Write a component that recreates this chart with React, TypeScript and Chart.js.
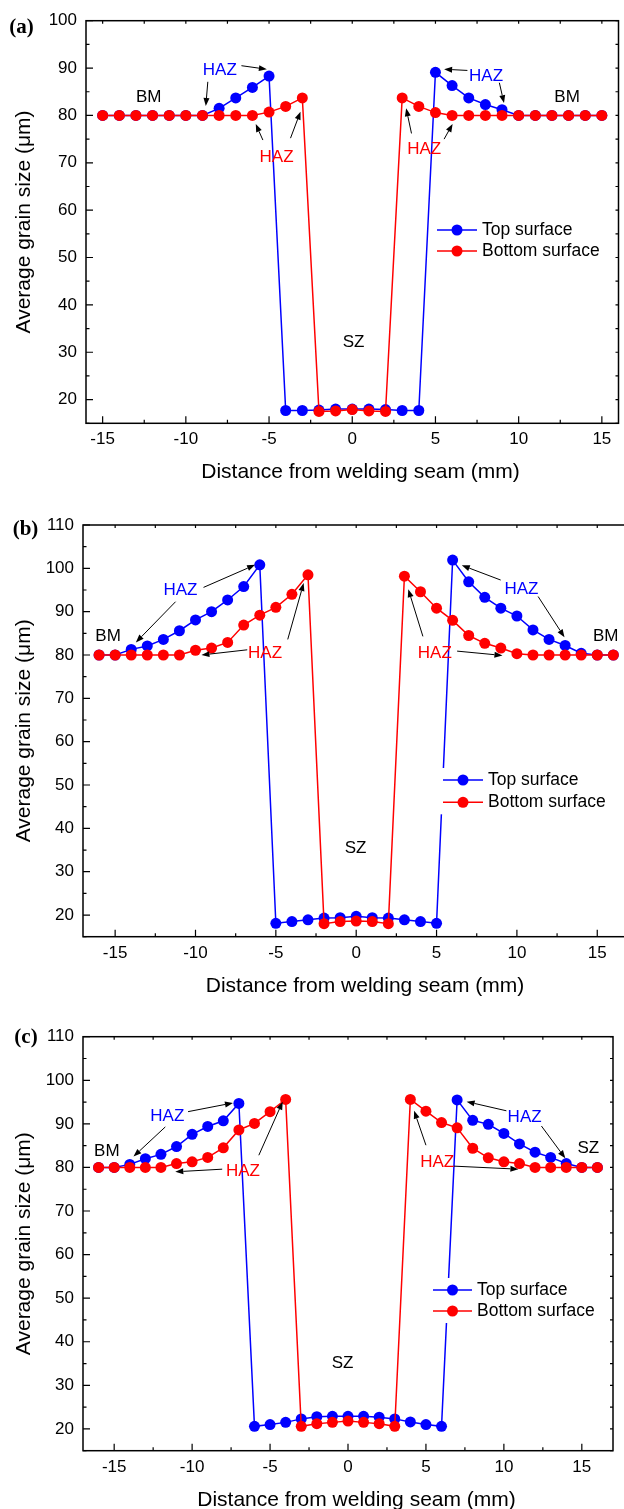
import React, { useEffect, useRef } from "react";
import { Chart, registerables } from "chart.js";

Chart.register(...registerables);

const SANS = "'Liberation Sans', Arial, Helvetica, sans-serif";
const SERIF = "'Liberation Serif', 'Times New Roman', serif";
const BLUE = "#0000ff";
const RED = "#ff0000";
const BLACK = "#000000";

const SERIES_LABELS = ["Top surface", "Bottom surface"];
const X_TITLE = "Distance from welding seam (mm)";
const Y_TITLE = "Average grain size (\u03bcm)";

// ---------- Panel (a) ----------
const distA = [-15, -14, -13, -12, -11, -10, -9, -8, -7, -6, -5, -4, -3, -2, -1, 0, 1, 2, 3, 4, 5, 6, 7, 8, 9, 10, 11, 12, 13, 14, 15];
const topA = [80, 80, 80, 80, 80, 80, 80, 81.5, 83.7, 85.9, 88.3, 17.7, 17.7, 17.8, 18.0, 18.0, 18.0, 17.9, 17.7, 17.7, 89.1, 86.3, 83.7, 82.3, 81.2, 80, 80, 80, 80, 80, 80];
const bottomA = [80, 80, 80, 80, 80, 80, 80, 80, 80, 80, 80.7, 81.9, 83.7, 17.5, 17.6, 17.9, 17.6, 17.5, 83.7, 81.9, 80.6, 80, 80, 80, 80, 80, 80, 80, 80, 80, 80];

// ---------- Panel (b) ----------
const distB = [-16, -15, -14, -13, -12, -11, -10, -9, -8, -7, -6, -5, -4, -3, -2, -1, 0, 1, 2, 3, 4, 5, 6, 7, 8, 9, 10, 11, 12, 13, 14, 15, 16];
const topB = [80, 80, 81.3, 82.1, 83.6, 85.6, 88.1, 90.0, 92.7, 95.8, 100.8, 18.1, 18.5, 18.9, 19.3, 19.4, 19.7, 19.4, 19.3, 18.9, 18.5, 18.1, 101.9, 96.9, 93.3, 90.8, 89.0, 85.8, 83.6, 82.2, 80.4, 80, 80];
const bottomB = [80, 80, 80, 80, 80, 80, 81.1, 81.6, 82.9, 86.9, 89.2, 91.0, 94.0, 98.5, 18.0, 18.5, 18.6, 18.5, 18.0, 98.2, 94.6, 90.8, 88.0, 84.5, 82.7, 81.6, 80.3, 80, 80, 80, 80, 80, 80];

// ---------- Panel (c) ----------
const distC = [-16, -15, -14, -13, -12, -11, -10, -9, -8, -7, -6, -5, -4, -3, -2, -1, 0, 1, 2, 3, 4, 5, 6, 7, 8, 9, 10, 11, 12, 13, 14, 15, 16];
const topC = [80, 80, 80.7, 82.0, 83.0, 84.8, 87.6, 89.4, 90.7, 94.7, 20.6, 21.0, 21.5, 22.3, 22.8, 22.9, 22.9, 22.9, 22.7, 22.3, 21.6, 21.0, 20.6, 95.5, 90.8, 89.9, 87.8, 85.4, 83.5, 82.3, 80.9, 80, 80];
const bottomC = [80, 80, 80, 80, 80, 80.9, 81.3, 82.3, 84.5, 88.6, 90.1, 92.8, 95.6, 20.6, 21.2, 21.5, 21.8, 21.5, 21.2, 20.6, 95.6, 92.9, 90.3, 89.1, 84.4, 82.2, 81.3, 80.9, 80, 80, 80, 80, 80];

// ---------- Annotations (data coordinates) ----------
type Note = { text: string; x: number; y: number; color: string };
type Arrow = { x1: number; y1: number; x2: number; y2: number };

const notesA: Note[] = [
  { text: "BM", x: -12.23, y: 83.8, color: BLACK },
  { text: "HAZ", x: -7.96, y: 89.6, color: BLUE },
  { text: "HAZ", x: -4.55, y: 71.2, color: RED },
  { text: "HAZ", x: 4.32, y: 72.9, color: RED },
  { text: "HAZ", x: 8.04, y: 88.3, color: BLUE },
  { text: "BM", x: 12.91, y: 83.8, color: BLACK },
  { text: "SZ", x: 0.08, y: 32.1, color: BLACK },
];
const arrowsA: Arrow[] = [
  { x1: -6.66, y1: 90.5, x2: -5.13, y2: 89.75 },
  { x1: -8.68, y1: 87.1, x2: -8.8, y2: 82.0 },
  { x1: -5.37, y1: 74.8, x2: -5.8, y2: 78.2 },
  { x1: -3.71, y1: 75.2, x2: -3.11, y2: 80.8 },
  { x1: 3.56, y1: 76.2, x2: 3.24, y2: 81.5 },
  { x1: 5.52, y1: 75.0, x2: 6.03, y2: 78.2 },
  { x1: 6.92, y1: 89.5, x2: 5.52, y2: 89.75 },
  { x1: 8.84, y1: 86.9, x2: 9.12, y2: 82.6 },
];

const notesB: Note[] = [
  { text: "BM", x: -15.44, y: 84.3, color: BLACK },
  { text: "HAZ", x: -10.94, y: 95.0, color: BLUE },
  { text: "HAZ", x: -5.67, y: 80.4, color: RED },
  { text: "HAZ", x: 4.89, y: 80.4, color: RED },
  { text: "HAZ", x: 10.28, y: 95.2, color: BLUE },
  { text: "BM", x: 15.53, y: 84.4, color: BLACK },
  { text: "SZ", x: -0.04, y: 35.3, color: BLACK },
];
const arrowsB: Arrow[] = [
  { x1: -9.5, y1: 95.6, x2: -6.29, y2: 100.8 },
  { x1: -11.24, y1: 92.3, x2: -13.71, y2: 82.9 },
  { x1: -6.78, y1: 81.2, x2: -9.63, y2: 80.0 },
  { x1: -4.26, y1: 83.6, x2: -3.27, y2: 96.6 },
  { x1: 4.15, y1: 84.3, x2: 3.24, y2: 95.2 },
  { x1: 6.28, y1: 80.9, x2: 9.1, y2: 79.9 },
  { x1: 8.99, y1: 97.3, x2: 6.57, y2: 100.7 },
  { x1: 11.32, y1: 93.5, x2: 12.96, y2: 84.1 },
];

const notesC: Note[] = [
  { text: "BM", x: -15.47, y: 83.8, color: BLACK },
  { text: "HAZ", x: -11.59, y: 91.8, color: BLUE },
  { text: "HAZ", x: -6.74, y: 79.0, color: RED },
  { text: "HAZ", x: 5.72, y: 81.1, color: RED },
  { text: "HAZ", x: 11.33, y: 91.6, color: BLUE },
  { text: "SZ", x: 15.42, y: 84.4, color: BLACK },
  { text: "SZ", x: -0.35, y: 35.0, color: BLACK },
];
const arrowsC: Arrow[] = [
  { x1: -10.26, y1: 92.8, x2: -7.38, y2: 94.8 },
  { x1: -11.72, y1: 89.3, x2: -13.76, y2: 82.5 },
  { x1: -8.07, y1: 79.6, x2: -11.08, y2: 79.0 },
  { x1: -5.72, y1: 82.8, x2: -4.19, y2: 95.1 },
  { x1: 5.0, y1: 85.1, x2: 4.24, y2: 93.0 },
  { x1: 6.79, y1: 80.3, x2: 10.93, y2: 79.6 },
  { x1: 10.16, y1: 93.0, x2: 7.61, y2: 95.1 },
  { x1: 12.41, y1: 89.5, x2: 13.94, y2: 82.1 },
];

// ---------- Panel layout (pixels, canvas-relative) ----------
type Layout = {
  canvasTop: number; canvasW: number; canvasH: number;
  left: number; right: number; top: number; bottom: number;
  labelX: number; labelY: number; xTitleX: number; xTitleY: number;
  legX0: number; legX1: number; legTextX: number; legY1: number; legY2: number;
};

type Panel = {
  key: string; label: string; dist: number[]; top: number[]; bottom: number[];
  xMin: number; xMax: number; yMin: number; yMax: number;
  notes: Note[]; arrows: Arrow[]; L: Layout;
};

const PANELS: Panel[] = [
  {
    key: "a", label: "(a)", dist: distA, top: topA, bottom: bottomA,
    xMin: -16, xMax: 16, yMin: 15, yMax: 100, notes: notesA, arrows: arrowsA,
    L: { canvasTop: 0, canvasW: 624, canvasH: 492, left: 86, right: 619, top: 20.7, bottom: 423.3,
      labelX: 21.5, labelY: 33, xTitleX: 360.5, xTitleY: 472,
      legX0: 437, legX1: 477, legTextX: 482, legY1: 230, legY2: 251 },
  },
  {
    key: "b", label: "(b)", dist: distB, top: topB, bottom: bottomB,
    xMin: -17, xMax: 17, yMin: 15, yMax: 110, notes: notesB, arrows: arrowsB,
    L: { canvasTop: 492, canvasW: 640, canvasH: 504, left: 83, right: 629.4, top: 33, bottom: 444.7,
      labelX: 25.5, labelY: 43, xTitleX: 365, xTitleY: 494,
      legX0: 443, legX1: 483, legTextX: 488, legY1: 288, legY2: 310.3 },
  },
  {
    key: "c", label: "(c)", dist: distC, top: topC, bottom: bottomC,
    xMin: -17, xMax: 17, yMin: 15, yMax: 110, notes: notesC, arrows: arrowsC,
    L: { canvasTop: 996, canvasW: 624, canvasH: 513, left: 83, right: 613, top: 40.7, bottom: 454.7,
      labelX: 26, labelY: 47, xTitleX: 356.5, xTitleY: 504,
      legX0: 433, legX1: 472, legTextX: 477, legY1: 294, legY2: 315 },
  },
];

function drawArrow(ctx: CanvasRenderingContext2D, x1: number, y1: number, x2: number, y2: number) {
  const ang = Math.atan2(y2 - y1, x2 - x1);
  const len = 8, hw = 3;
  const bx = x2 - len * Math.cos(ang), by = y2 - len * Math.sin(ang);
  ctx.beginPath();
  ctx.moveTo(x1, y1);
  ctx.lineTo(bx, by);
  ctx.stroke();
  ctx.beginPath();
  ctx.moveTo(x2, y2);
  ctx.lineTo(bx + hw * Math.sin(ang), by - hw * Math.cos(ang));
  ctx.lineTo(bx - hw * Math.sin(ang), by + hw * Math.cos(ang));
  ctx.closePath();
  ctx.fill();
}

function buildChart(canvas: HTMLCanvasElement, p: Panel) {
  const L = p.L;
  const datasets = [
    { label: SERIES_LABELS[0], color: BLUE, values: p.top, order: 1 },
    { label: SERIES_LABELS[1], color: RED, values: p.bottom, order: 0 },
  ].map((s) => ({
    label: s.label,
    data: p.dist.map((x, i) => ({ x, y: s.values[i] })),
    showLine: true,
    borderColor: s.color,
    backgroundColor: s.color,
    borderWidth: 1.5,
    pointRadius: 5.5,
    pointBorderWidth: 0,
    pointBackgroundColor: s.color,
    tension: 0,
    order: s.order,
  }));

  const decor = {
    id: "decor",
    afterDatasetsDraw(chart: any) {
      const ctx: CanvasRenderingContext2D = chart.ctx;
      const xs = chart.scales.x, ys = chart.scales.y;
      const { left, right, top, bottom } = chart.chartArea;
      ctx.save();

      // arrows
      ctx.strokeStyle = BLACK;
      ctx.fillStyle = BLACK;
      ctx.lineWidth = 1;
      for (const a of p.arrows) {
        drawArrow(ctx, xs.getPixelForValue(a.x1), ys.getPixelForValue(a.y1), xs.getPixelForValue(a.x2), ys.getPixelForValue(a.y2));
      }
      // notes
      ctx.font = `17px ${SANS}`;
      ctx.textAlign = "center";
      ctx.textBaseline = "middle";
      for (const n of p.notes) {
        ctx.fillStyle = n.color;
        ctx.fillText(n.text, xs.getPixelForValue(n.x), ys.getPixelForValue(n.y));
      }

      // legend
      ctx.font = `17.5px ${SANS}`;
      const rows = [L.legY1, L.legY2];
      let tw = 0;
      chart.data.datasets.forEach((d: any) => { tw = Math.max(tw, ctx.measureText(d.label).width); });
      ctx.fillStyle = "#ffffff";
      ctx.fillRect(L.legX0 - 4, L.legY1 - 12, L.legTextX + tw + 4 - (L.legX0 - 4), L.legY2 - L.legY1 + 24);
      chart.data.datasets.forEach((d: any, i: number) => {
        const y = rows[i];
        ctx.strokeStyle = d.borderColor;
        ctx.lineWidth = 1.5;
        ctx.beginPath();
        ctx.moveTo(L.legX0, y);
        ctx.lineTo(L.legX1, y);
        ctx.stroke();
        ctx.fillStyle = d.borderColor;
        ctx.beginPath();
        ctx.arc((L.legX0 + L.legX1) / 2, y, 5.5, 0, Math.PI * 2);
        ctx.fill();
        ctx.fillStyle = BLACK;
        ctx.textAlign = "left";
        ctx.textBaseline = "middle";
        ctx.fillText(d.label, L.legTextX, y);
      });

      // frame
      ctx.strokeStyle = BLACK;
      ctx.lineWidth = 1.5;
      ctx.strokeRect(left, top, right - left, bottom - top);

      // ticks (inward), major + minor
      ctx.lineWidth = 1.2;
      const xMajor = xs.ticks.map((t: any) => t.value);
      const yMajor = ys.ticks.map((t: any) => t.value);
      ctx.beginPath();
      for (let v = Math.ceil(p.xMin / 2.5) * 2.5; v <= p.xMax + 1e-9; v += 2.5) {
        const px = xs.getPixelForValue(v);
        const major = xMajor.some((m: number) => Math.abs(m - v) < 1e-6);
        ctx.moveTo(px, bottom);
        ctx.lineTo(px, bottom - (major ? 7 : 3.5));
        ctx.moveTo(px, top);
        ctx.lineTo(px, top + 3);
      }
      for (let v = Math.ceil(p.yMin / 5) * 5; v <= p.yMax + 1e-9; v += 5) {
        const py = ys.getPixelForValue(v);
        const major = yMajor.some((m: number) => Math.abs(m - v) < 1e-6);
        ctx.moveTo(left, py);
        ctx.lineTo(left + (major ? 7 : 3.5), py);
        ctx.moveTo(right, py);
        ctx.lineTo(right - 3, py);
      }
      ctx.stroke();

      // x title
      ctx.fillStyle = BLACK;
      ctx.font = `21px ${SANS}`;
      ctx.textAlign = "center";
      ctx.textBaseline = "middle";
      ctx.fillText(X_TITLE, L.xTitleX, L.xTitleY);

      // panel label
      ctx.font = `bold 21px ${SERIF}`;
      ctx.textBaseline = "alphabetic";
      ctx.fillText(p.label, L.labelX, L.labelY);

      ctx.restore();
    },
  };

  return new Chart(canvas, {
    type: "scatter",
    data: { datasets },
    options: {
      animation: false,
      responsive: false,
      maintainAspectRatio: false,
      events: [],
      layout: { padding: { left: 0, top: L.top, right: L.canvasW - L.right, bottom: 0 } },
      plugins: { legend: { display: false }, tooltip: { enabled: false }, title: { display: false } },
      scales: {
        x: {
          type: "linear",
          min: p.xMin,
          max: p.xMax,
          grid: { display: false, drawTicks: false },
          border: { display: false },
          ticks: { stepSize: 5, includeBounds: false, padding: 6, color: BLACK, font: { family: SANS, size: 17 }, maxRotation: 0 },
          afterFit: (s: any) => { s.height = L.canvasH - L.bottom; },
        },
        y: {
          type: "linear",
          min: p.yMin,
          max: p.yMax,
          grid: { display: false, drawTicks: false },
          border: { display: false },
          ticks: { stepSize: 10, includeBounds: false, padding: 9, color: BLACK, font: { family: SANS, size: 17 } },
          title: { display: true, text: Y_TITLE, color: BLACK, font: { family: SANS, size: 21 }, padding: { top: 12, bottom: 0 } },
          afterFit: (s: any) => { s.width = L.left; },
        },
      },
    },
    plugins: [decor],
  } as any);
}

function PanelChart({ panel }: { panel: Panel }) {
  const ref = useRef<HTMLCanvasElement | null>(null);
  useEffect(() => {
    if (!ref.current) return;
    const chart = buildChart(ref.current, panel);
    return () => chart.destroy();
  }, [panel]);
  const L = panel.L;
  return (
    <canvas
      ref={ref}
      width={L.canvasW}
      height={L.canvasH}
      style={{ position: "absolute", left: 0, top: L.canvasTop, width: L.canvasW, height: L.canvasH, display: "block" }}
    />
  );
}

export default function App() {
  return (
    <div style={{ position: "absolute", left: 0, top: 0, width: 624, height: 1509, overflow: "hidden", background: "#ffffff" }}>
      {PANELS.map((p) => (
        <PanelChart key={p.key} panel={p} />
      ))}
    </div>
  );
}
